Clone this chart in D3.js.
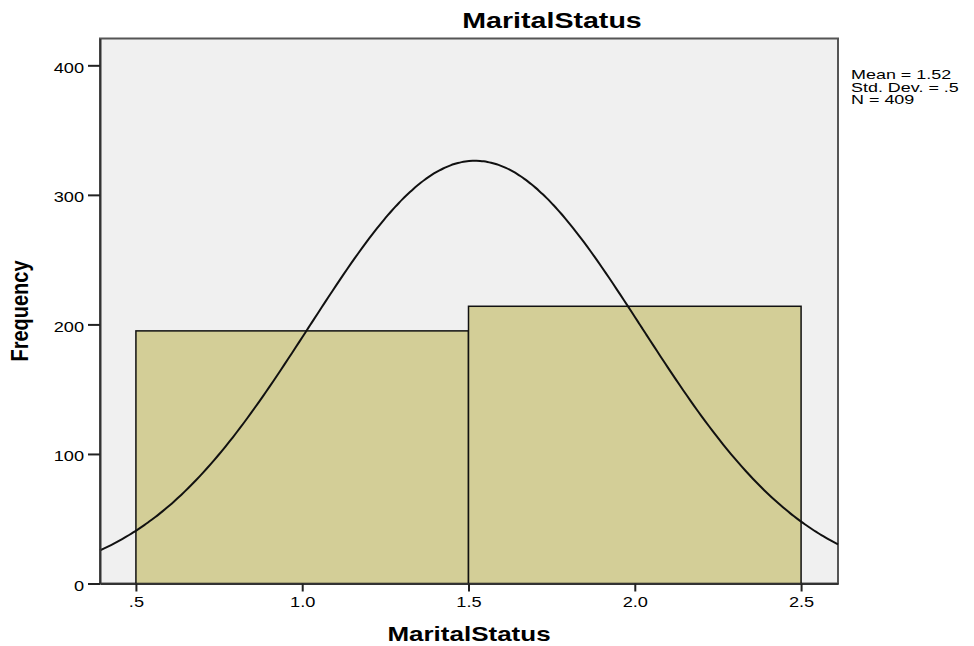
<!doctype html>
<html>
<head>
<meta charset="utf-8">
<style>
  body { margin: 0; background: #fff; }
  text { font-family: "Liberation Sans", Arial, sans-serif; fill: #000; }
</style>
</head>
<body>
<svg width="974" height="646"></svg>
<script src="https://cdn.jsdelivr.net/npm/d3@7"></script>
<script>
// histogram data
var binStarts = [0.5, 1.5];
var binWidth = 1;
var frequencies = [195, 214];
var xTicks = [0.5, 1.0, 1.5, 2.0, 2.5];
var xTickLabels = [".5", "1.0", "1.5", "2.0", "2.5"];
var yTicks = [0, 100, 200, 300, 400];
var statLines = ["Mean = 1.52", "Std. Dev. = .5", "N = 409"];
var mean = 1.52, stdDev = 0.5, n = 409;

var svg = d3.select("svg");
var plotLeft = 100, plotRight = 838, plotTop = 38.5, plotBottom = 583.5;
var sx = 1.3; // the picture is stretched sideways

var x = d3.scaleLinear().domain([0.392, 2.611]).range([plotLeft, plotRight]);
var y = d3.scaleLinear().domain([0, 420.7]).range([plotBottom, plotTop]);

svg.append("rect")
  .attr("x", plotLeft).attr("y", plotTop)
  .attr("width", plotRight - plotLeft).attr("height", plotBottom - plotTop)
  .attr("fill", "#f0f0f0")
  .attr("stroke", "#555").attr("stroke-width", 2);

svg.append("g").selectAll("rect")
  .data(frequencies)
  .enter().append("rect")
  .attr("x", (d, i) => x(binStarts[i]))
  .attr("y", (d) => y(d))
  .attr("width", (d, i) => x(binStarts[i] + binWidth) - x(binStarts[i]))
  .attr("height", (d) => y(0) - y(d))
  .attr("fill", "#d3ce97")
  .attr("stroke", "#111").attr("stroke-width", 1.5);

// normal curve from the stats in the legend
var peak = n * binWidth / (stdDev * Math.sqrt(2 * Math.PI));
var curveX = d3.range(0, 201).map((i) => x.domain()[0] + i * (x.domain()[1] - x.domain()[0]) / 200);
var line = d3.line()
  .x((d) => x(d))
  .y((d) => y(peak * Math.exp(-0.5 * Math.pow((d - mean) / stdDev, 2))))
  .curve(d3.curveMonotoneX);

svg.append("path")
  .datum(curveX)
  .attr("d", line)
  .attr("fill", "none")
  .attr("stroke", "#111").attr("stroke-width", 2);

// axes
var yAxis = svg.append("g")
  .attr("transform", `translate(${plotLeft},0)`)
  .call(d3.axisLeft(y).tickValues(yTicks).tickSize(12).tickPadding(4).tickSizeOuter(0));
var xAxis = svg.append("g")
  .attr("transform", `translate(0,${plotBottom})`)
  .call(d3.axisBottom(x).tickValues(xTicks).tickSize(8).tickSizeOuter(0)
    .tickFormat((d, i) => xTickLabels[i]));

[yAxis, xAxis].forEach(function (g) {
  g.select(".domain").attr("stroke", "#333").attr("stroke-width", 2);
  g.selectAll(".tick line").attr("stroke", "#222").attr("stroke-width", 2);
  g.selectAll("text")
    .style("font-family", '"Liberation Sans", Arial, sans-serif')
    .attr("font-size", 14).attr("fill", "#111");
});
yAxis.selectAll("text")
  .attr("x", -16 / sx).attr("dy", "0.5em")
  .attr("transform", `scale(${sx},1)`);
xAxis.selectAll("text")
  .attr("y", 0).attr("dy", 0)
  .attr("transform", `translate(0,23.5) scale(${sx},1)`);

// titles
svg.append("text")
  .attr("transform", `translate(552,28) scale(${sx},1)`)
  .attr("text-anchor", "middle")
  .attr("font-size", 22).attr("font-weight", "bold")
  .text("MaritalStatus");

svg.append("text")
  .attr("transform", `translate(469,641) scale(${sx},1)`)
  .attr("text-anchor", "middle")
  .attr("font-size", 20).attr("font-weight", "bold")
  .text("MaritalStatus");

svg.append("text")
  .attr("transform", "translate(28,311) scale(1.17,1) rotate(-90)")
  .attr("text-anchor", "middle")
  .attr("font-size", 20).attr("font-weight", "bold")
  .text("Frequency");

svg.append("g").selectAll("text")
  .data(statLines)
  .enter().append("text")
  .attr("transform", (d, i) => `translate(851,${79 + i * 12.5}) scale(1.38,1)`)
  .attr("font-size", 13)
  .text((d) => d);
</script>
</body>
</html>
